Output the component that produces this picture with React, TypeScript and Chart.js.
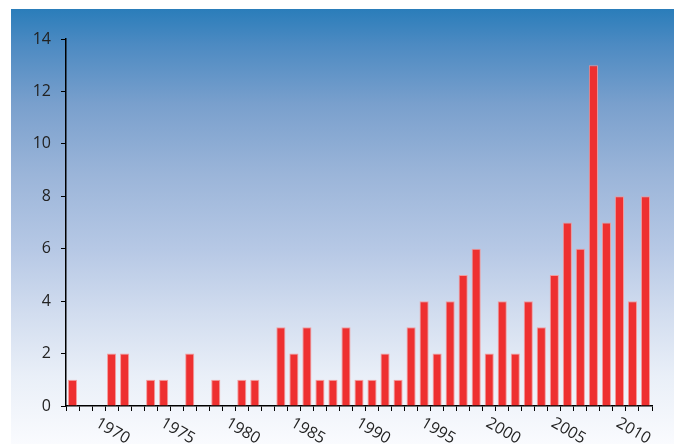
import React, { useEffect, useRef } from "react";
import { Chart, registerables } from "chart.js";

Chart.register(...registerables);

const years: string[] = [];
for (let y = 1967; y <= 2011; y++) years.push(String(y));

const counts = [
  1, 0, 0, 2, 2, 0, 1, 1, 0, 2,
  0, 1, 0, 1, 1, 0, 3, 2, 3, 1,
  1, 3, 1, 1, 2, 1, 3, 4, 2, 4,
  5, 6, 2, 4, 2, 4, 3, 5, 7, 6,
  13, 7, 8, 4, 8,
];

const yTicks = [0, 2, 4, 6, 8, 10, 12, 14];
const labeledYears = ["1970", "1975", "1980", "1985", "1990", "1995", "2000", "2005", "2010"];

const FONT = "'Open Sans', 'DejaVu Sans', sans-serif";

const rotatedLabels = {
  id: "rotatedLabels",
  afterDraw(chart: any) {
    const ctx = chart.ctx;
    const xs = chart.scales.x;
    const bottom = chart.chartArea.bottom;
    ctx.save();
    ctx.fillStyle = "#222";
    ctx.font = `16px ${FONT}`;
    ctx.textAlign = "center";
    ctx.textBaseline = "middle";
    labeledYears.forEach((lab) => {
      const idx = years.indexOf(lab);
      if (idx < 0) return;
      const x = xs.getPixelForValue(idx);
      ctx.save();
      ctx.translate(x + 1, bottom + 25);
      ctx.rotate((30 * Math.PI) / 180);
      ctx.fillText(lab, 0, 0);
      ctx.restore();
    });
    ctx.restore();
  },
};

export default function App() {
  const ref = useRef<HTMLCanvasElement | null>(null);
  useEffect(() => {
    if (!ref.current) return;
    const chart = new Chart(ref.current, {
      type: "bar",
      data: {
        labels: years,
        datasets: [
          {
            data: counts,
            backgroundColor: "#ee3030",
            borderColor: "rgba(245,150,150,0.9)",
            borderWidth: 1,
            categoryPercentage: 0.7,
            barPercentage: 1,
          },
        ],
      },
      options: {
        animation: false,
        responsive: false,
        maintainAspectRatio: false,
        layout: { padding: { top: 30, right: 23, left: 0, bottom: 0 } },
        plugins: { legend: { display: false }, tooltip: { enabled: false } },
        scales: {
          x: {
            type: "category",
            grid: {
              display: true,
              drawOnChartArea: false,
              drawTicks: true,
              tickLength: 5,
              color: "#000",
              offset: true,
            },
            border: { display: true, color: "#000", width: 1.5 },
            ticks: { display: false, autoSkip: false },
            afterFit(scale: any) {
              scale.height = 39;
            },
          },
          y: {
            min: 0,
            max: 14,
            afterBuildTicks(scale: any) {
              scale.ticks = yTicks.map((v) => ({ value: v }));
            },
            grid: {
              display: true,
              drawOnChartArea: false,
              drawTicks: true,
              tickLength: 5,
              color: "#000",
            },
            border: { display: true, color: "#000", width: 1.5 },
            ticks: {
              padding: 10,
              color: "#222",
              font: { family: FONT, size: 16 },
            },
            afterFit(scale: any) {
              scale.width = 55;
            },
          },
        },
      },
      plugins: [rotatedLabels],
    });
    return () => chart.destroy();
  }, []);
  return (
    <div
      style={{
        width: 664,
        height: 436,
        marginLeft: 3,
        marginTop: 1,
        background:
          "linear-gradient(to bottom, #2a7dba 0%, #4c8ac2 8%, #7aa0cd 22%, #9bb5d9 38%, #b6c8e5 55%, #d2ddef 70%, #e9eff8 84%, #fafbfe 100%)",
      }}
    >
      <canvas ref={ref} width={664} height={436} style={{ display: "block" }} />
    </div>
  );
}
